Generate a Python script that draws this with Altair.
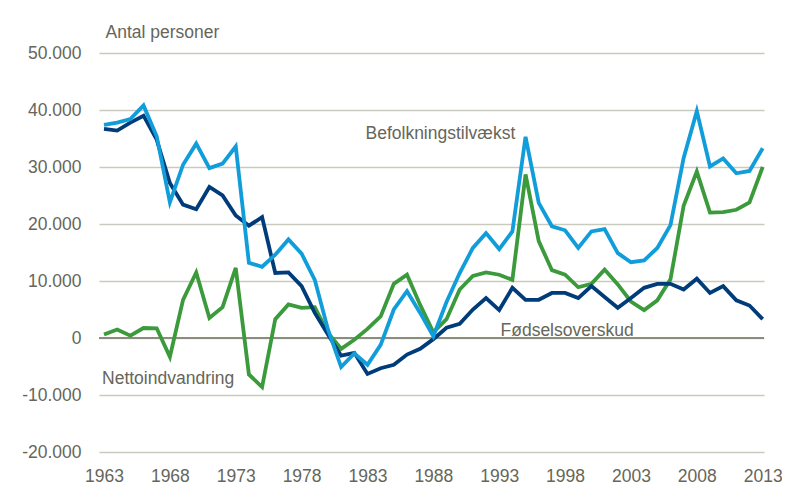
import altair as alt
import pandas as pd

years = list(range(1963, 2014))

foedselsoverskud = [36700, 36400, 37800, 39000, 34800, 27200, 23400, 22600, 26500, 25000,
                    21500, 19700, 21200, 11400, 11500, 9100, 4400, 600, -3100, -2600,
                    -6300, -5300, -4700, -2900, -1900, -200, 1800, 2500, 5000, 7000,
                    4900, 8800, 6700, 6700, 7900, 7900, 7000, 9100, 7200, 5300,
                    7000, 8800, 9500, 9500, 8500, 10400, 7900, 9100, 6600, 5700, 3300]

befolkningstilvaekst = [37400, 37800, 38400, 40800, 35400, 23800, 30400, 34100, 29800, 30600,
                        33600, 13200, 12500, 14600, 17300, 14800, 10200, 1500, -5100, -2700,
                        -4700, -1200, 5000, 8200, 4400, 300, 6300, 11400, 15800, 18400,
                        15600, 18700, 35300, 23700, 19600, 18900, 15800, 18700, 19100, 14900,
                        13300, 13600, 15800, 19800, 31600, 39800, 30100, 31500, 28900, 29300, 33300]

nettoindvandring = [600, 1500, 400, 1750, 1700, -3300, 6700, 11500, 3500, 5400,
                    12300, -6400, -8600, 3300, 5900, 5300, 5400, 900, -1900, -300,
                    1600, 3800, 9500, 11100, 5800, 1000, 3300, 8500, 10900, 11500,
                    11100, 10200, 28700, 17000, 11900, 11100, 8900, 9500, 12000, 9400,
                    6400, 4900, 6600, 10300, 23200, 29200, 22000, 22100, 22500, 23800, 30000]

series_names = ["Nettoindvandring", "Fødselsoverskud", "Befolkningstilvækst"]
series_colors = ["#3b9a3b", "#003b7a", "#109dd9"]

x_ticks = [1963, 1968, 1973, 1978, 1983, 1988, 1993, 1998, 2003, 2008, 2013]
y_ticks = [-20000, -10000, 0, 10000, 20000, 30000, 40000, 50000]

label_texts = ["Befolkningstilvækst", "Fødselsoverskud", "Nettoindvandring"]
label_years = [1982.85, 1993.1, 1962.85]
label_values = [35000, 350, -8100]

TEXT = "#66665a"
FONT = "Liberation Sans"

rows = []
for name, vals in zip(series_names, [nettoindvandring, foedselsoverskud, befolkningstilvaekst]):
    for yr, v in zip(years, vals):
        rows.append({"year": yr, "value": v, "serie": name, "order": series_names.index(name)})
df = pd.DataFrame(rows)

labels_df = pd.DataFrame({"text": label_texts, "year": label_years, "value": label_values})
zero_df = pd.DataFrame({"value": [0]})

x_scale = alt.Scale(domain=[1962.62, 2013.1], nice=False, zero=False)
y_scale = alt.Scale(domain=[-20000, 50000], nice=False)

lines = alt.Chart(df).mark_line(strokeWidth=3.8, strokeJoin="miter", strokeCap="butt").encode(
    x=alt.X("year:Q", scale=x_scale,
            axis=alt.Axis(values=x_ticks, format="d", grid=False, domain=False, ticks=False,
                          tickSize=0, labelPadding=15, labelFontSize=17.5, labelColor=TEXT,
                          labelFont=FONT, title=None)),
    y=alt.Y("value:Q", scale=y_scale,
            axis=alt.Axis(values=y_ticks, grid=True, gridColor="#c9c9bd", gridWidth=1.5,
                          domain=False, ticks=False, tickSize=0, labelPadding=18,
                          labelFontSize=17.5, labelColor=TEXT, labelFont=FONT,
                          labelExpr="(datum.value < 0 ? '-' : '') + replace(format(abs(datum.value), ','), ',', '.')",
                          title="Antal personer", titleAngle=0, titleAlign="left",
                          titleBaseline="alphabetic", titleX=6, titleY=-16,
                          titleFontSize=17.5, titleFontWeight="normal", titleColor=TEXT,
                          titleFont=FONT)),
    color=alt.Color("serie:N", scale=alt.Scale(domain=series_names, range=series_colors), legend=None),
    detail="serie:N",
    order=alt.Order("order:Q"),
)

zero = alt.Chart(zero_df).mark_rule(color="#8c8c7c", strokeWidth=2).encode(
    y=alt.Y("value:Q", scale=y_scale),
)

texts = alt.Chart(labels_df).mark_text(align="left", baseline="alphabetic", fontSize=17.5,
                                        font=FONT, color=TEXT).encode(
    x=alt.X("year:Q", scale=x_scale),
    y=alt.Y("value:Q", scale=y_scale),
    text="text:N",
)

chart = alt.layer(zero, lines, texts).properties(
    width=665, height=399,
    autosize=alt.AutoSizeParams(type="none"),
    padding={"left": 91, "top": 45, "right": 18, "bottom": 34},
    background="white",
).configure_view(stroke=None)

chart.save("out.html", embed_options={"renderer": "svg", "actions": False})
